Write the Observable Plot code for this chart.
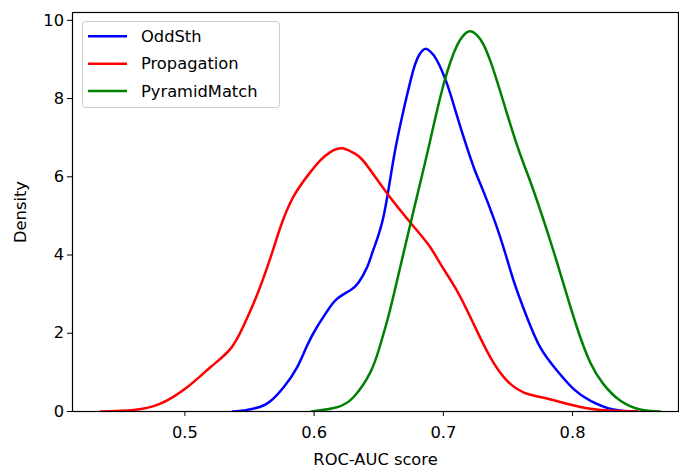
<!DOCTYPE html>
<html>
<head>
<meta charset="utf-8">
<script src="https://cdn.jsdelivr.net/npm/d3@7"></script>
<script src="https://cdn.jsdelivr.net/npm/@observablehq/plot@0.6"></script>
<style>
  html, body { margin: 0; padding: 0; background: white; }
</style>
</head>
<body>
<div id="chart"></div>
<script>
const seriesNames = ["OddSth", "Propagation", "PyramidMatch"];
const seriesColors = ["#0000ff", "#ff0000", "#008000"];

const oddX = [0.537,0.548,0.5584,0.5661,0.5764,0.5868,0.5945,0.6022,0.610,0.6177,0.628,0.6344,0.6409,0.646,0.6538,0.6615,0.6692,0.677,0.682,0.686,0.690,0.695,0.7028,0.710,0.7165,0.724,0.7311,0.744,0.7543,0.7647,0.775,0.7879,0.8007,0.8136,0.8316,0.850];
const oddY = [0,0.04,0.12,0.26,0.62,1.13,1.68,2.16,2.56,2.88,3.1,3.3,3.68,4.15,5.0,6.46,7.7,8.75,9.15,9.27,9.2,8.98,8.38,7.62,6.93,6.2,5.62,4.46,3.35,2.41,1.64,1.05,0.58,0.28,0.05,0];

const propX = [0.4347,0.4604,0.481,0.5017,0.5197,0.5352,0.5455,0.5558,0.5661,0.5739,0.5841,0.5971,0.6048,0.6125,0.6216,0.630,0.6383,0.6564,0.677,0.6899,0.6976,0.7105,0.7234,0.7363,0.7492,0.762,0.775,0.7956,0.8136,0.8316,0.850];
const propY = [0,0.04,0.20,0.62,1.13,1.6,2.2,2.98,3.92,4.71,5.5,6.12,6.42,6.63,6.73,6.62,6.4,5.58,4.73,4.2,3.78,3.09,2.24,1.39,0.79,0.49,0.37,0.20,0.07,0.02,0];

const pyrX = [0.598,0.6177,0.6306,0.6435,0.6512,0.6584,0.6667,0.6796,0.6886,0.6989,0.7079,0.714,0.7203,0.726,0.7311,0.7365,0.7415,0.7485,0.7556,0.7625,0.7698,0.7827,0.793,0.8033,0.8136,0.8239,0.8368,0.8523,0.8677];
const pyrY = [0,0.11,0.37,1.0,1.7,2.55,3.7,5.5,6.75,8.2,9.15,9.55,9.72,9.62,9.38,8.95,8.45,7.7,6.95,6.3,5.65,4.37,3.26,2.16,1.26,0.7,0.28,0.05,0];

const xTicks = [0.5, 0.6, 0.7, 0.8];
const yTicks = [0, 2, 4, 6, 8, 10];

const rows = [];
[[oddX, oddY], [propX, propY], [pyrX, pyrY]].forEach(([xs, ys], i) => {
  xs.forEach((x, j) => rows.push({series: seriesNames[i], x, y: ys[j]}));
});

const FS = 16.3;

const plot = Plot.plot({
  width: 679,
  height: 470,
  marginLeft: 72,
  marginRight: 1,
  marginTop: 12,
  marginBottom: 59,
  style: {fontFamily: "DejaVu Sans", fontSize: FS + "px", background: "white", color: "black"},
  x: {domain: [0.413, 0.882]},
  y: {domain: [0, 10.2]},
  color: {domain: seriesNames, range: seriesColors},
  marks: [
    Plot.line(rows, {x: "x", y: "y", z: "series", stroke: "series", strokeWidth: 2.5, curve: "natural", clip: true}),
    Plot.frame({stroke: "black", strokeWidth: 1.2}),
    Plot.axisX({ticks: xTicks, tickSize: 5, tickPadding: 10, fontSize: FS, tickFormat: d => d.toFixed(1),
      label: "ROC-AUC score", labelAnchor: "center", labelArrow: "none", labelOffset: 53}),
    Plot.axisY({ticks: yTicks, tickSize: 5, tickPadding: 3.5, fontSize: FS, tickFormat: d => String(d),
      label: "Density", labelAnchor: "center", labelArrow: "none", labelOffset: 58})
  ]
});

document.getElementById("chart").appendChild(plot);

// Legend inside the plot (upper left)
const svg = d3.select(plot);
const lg = svg.append("g").attr("font-family", "DejaVu Sans").attr("font-size", FS).attr("text-anchor", "start");
lg.append("rect").attr("x", 82.5).attr("y", 21.5).attr("width", 197).attr("height", 86)
  .attr("rx", 3).attr("fill", "white").attr("fill-opacity", 0.8).attr("stroke", "#cccccc");
seriesNames.forEach((name, i) => {
  const cy = 36.3 + i * 27.4;
  lg.append("line").attr("x1", 88).attr("x2", 127).attr("y1", cy).attr("y2", cy)
    .attr("stroke", seriesColors[i]).attr("stroke-width", 2.5);
  lg.append("text").attr("x", 141).attr("y", cy).attr("dy", "0.35em").attr("fill", "black")
    .attr("text-anchor", "start").text(name);
});
</script>
</body>
</html>
